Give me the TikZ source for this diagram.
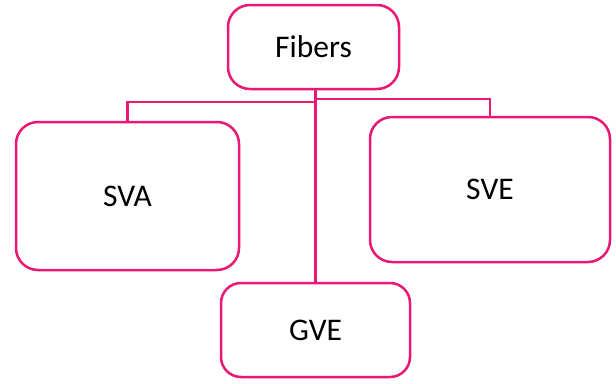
\documentclass[tikz,border=0pt]{standalone}
\usepackage{fontspec}
\setmainfont{Carlito}
\usepackage{tikz}
\usetikzlibrary{positioning}
\definecolor{fiberpink}{RGB}{234,24,116}
\tikzset{
    block/.style={rectangle, draw=fiberpink, line width=2.5pt, rounded corners=22pt, fill=white, align=center, inner sep=0pt, font=\fontsize{31.5}{36}\selectfont},
    link/.style={draw=fiberpink, line width=2.5pt}
}

\begin{document}
\begin{tikzpicture}[x=1pt, y=-1pt]
    \useasboundingbox (0,0) rectangle (616,383);

    % Nodes
    \node[block, minimum width=171pt, minimum height=84pt] (fibers) at (313.5,47) {Fibers};
    \node[block, minimum width=223pt, minimum height=148pt] (sva) at (127.5,196) {SVA};
    \node[block, minimum width=240pt, minimum height=145pt] (sve) at (490,189.5) {SVE};
    \node[block, minimum width=189pt, minimum height=94pt, rounded corners=20pt] (gve) at (315.5,330) {GVE};

    % Bus junctions under Fibers
    \coordinate (lbus) at (315,102);
    \coordinate (rbus) at (315,99);

    % Connectors
    \draw[link] (fibers.south -| gve.north) -- (gve.north);
    \draw[link] (lbus) -| (sva.north);
    \draw[link] (rbus) -| (sve.north);

\end{tikzpicture}
\end{document}
